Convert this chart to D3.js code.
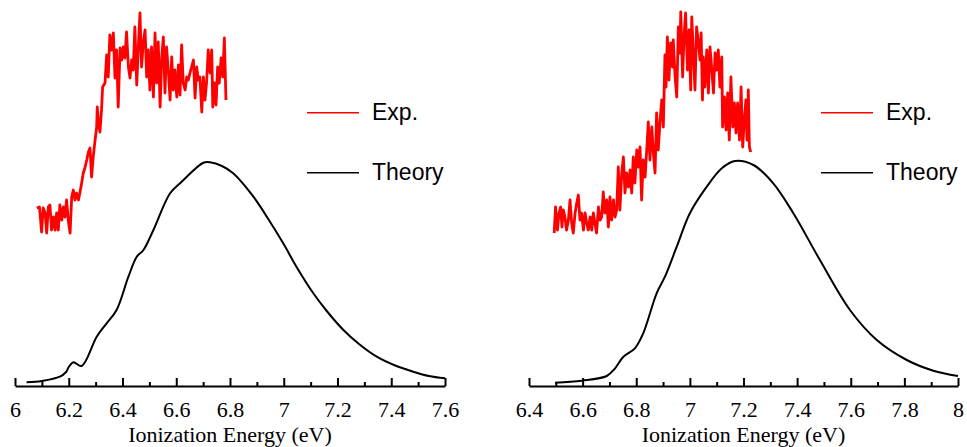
<html lang="en">
  <head>
    <meta charset="utf-8">
    <script src="https://d3js.org/d3.v7.min.js"></script>
    <style type="text/css">
body {
  margin: 0;
  background: #fff;
}
.axis text {
  font-family: "Liberation Serif", "Times New Roman", serif;
  font-size: 22px;
  fill: #000;
}
.axis path, .axis line {
  stroke: #000;
  stroke-width: 2;
}
.axis-title {
  font-family: "Liberation Serif", "Times New Roman", serif;
  font-size: 22px;
}
.legend text {
  font-family: "Liberation Sans", Arial, sans-serif;
  font-size: 23px;
}
    </style>
  </head>
  <body>
    <div id="chart"></div>
    <script type="text/javascript">
const width = 967;
const height = 447;
const baseY = 386;

// ---- left panel data (energy eV, intensity arb. units) ----
const leftTicks = [6, 6.2, 6.4, 6.6, 6.8, 7, 7.2, 7.4, 7.6];
const leftMinor = [6.1, 6.3, 6.5, 6.7, 6.9, 7.1, 7.3, 7.5];

const leftTheoryE = [6.043, 6.10, 6.167, 6.19, 6.20, 6.217, 6.248, 6.304, 6.341, 6.378, 6.422, 6.453, 6.478,
  6.515, 6.577, 6.620, 6.701, 6.726, 6.77, 6.812, 6.887, 6.94, 6.998, 7.05, 7.110, 7.16, 7.222,
  7.28, 7.346, 7.41, 7.482, 7.54, 7.600];
const leftTheoryI = [3.7, 5, 9.3, 14, 19, 23.7, 20, 49.3, 62.7, 76, 109.3, 129.3, 136,
  156, 192.7, 204.3, 223.3, 223.7, 220, 212.7, 189.3, 168, 142.7, 118, 92.7, 75, 56,
  42, 29.3, 21, 14.3, 10, 7.7];

const leftExpE = [6.081, 6.091, 6.099, 6.105, 6.112, 6.118, 6.124, 6.130, 6.136, 6.143, 6.149, 6.155,
  6.161, 6.167, 6.174, 6.180, 6.186, 6.192, 6.198, 6.205, 6.211, 6.217, 6.223, 6.229, 6.236, 6.242,
  6.248, 6.254, 6.260, 6.267, 6.273, 6.279, 6.285, 6.291, 6.298, 6.304, 6.306, 6.310, 6.316, 6.322,
  6.326, 6.335, 6.341, 6.347, 6.353, 6.360, 6.366, 6.372, 6.378, 6.384, 6.391, 6.397, 6.403, 6.409,
  6.415, 6.422, 6.428, 6.434, 6.440, 6.446, 6.453, 6.459, 6.465, 6.471, 6.477, 6.484, 6.490, 6.496,
  6.502, 6.508, 6.515, 6.521, 6.527, 6.533, 6.540, 6.546, 6.552, 6.558, 6.564, 6.571, 6.577, 6.583,
  6.589, 6.595, 6.602, 6.608, 6.614, 6.620, 6.626, 6.633, 6.639, 6.645, 6.651, 6.657, 6.664, 6.670,
  6.676, 6.682, 6.688, 6.695, 6.701, 6.707, 6.713, 6.719, 6.726, 6.732, 6.736, 6.742, 6.748, 6.754,
  6.760, 6.767, 6.773, 6.779, 6.785];
const leftExpI = [178, 179, 154, 178, 173, 153, 179, 181, 156, 169, 156, 173,
  156, 181, 166, 179, 169, 186, 166, 153, 189, 196, 186, 193, 186, 194,
  203, 213, 218, 226, 234, 238, 209, 229, 246, 259, 279, 266, 254, 276,
  299, 303, 331, 309, 351, 336, 353, 308, 336, 279, 338, 326, 339, 328,
  354, 319, 308, 326, 316, 359, 301, 339, 373, 319, 343, 356, 309, 336,
  296, 339, 289, 353, 303, 344, 279, 329, 349, 293, 339, 313, 286, 329,
  296, 316, 289, 321, 291, 341, 303, 296, 309, 306, 313, 319, 326, 288,
  319, 306, 309, 274, 309, 286, 304, 336, 313, 336, 279, 303, 281, 319,
  303, 328, 309, 348, 286];

// ---- right panel data ----
const rightTicks = [6.4, 6.6, 6.8, 7, 7.2, 7.4, 7.6, 7.8, 8];
const rightMinor = [6.5, 6.7, 6.9, 7.1, 7.3, 7.5, 7.7, 7.9];

const rightTheoryE = [6.497, 6.597, 6.690, 6.721, 6.752, 6.795, 6.826, 6.876, 6.907, 6.951, 7.000,
  7.063, 7.119, 7.168, 7.237, 7.311, 7.386, 7.485, 7.597, 7.697, 7.809, 7.908, 8.0];
const rightTheoryI = [3.3, 5.3, 10, 17.7, 29.3, 37.7, 52.7, 92.7, 109.3, 139.3, 172.7,
  199.3, 217.7, 225, 221, 202.7, 172.7, 126, 76, 46, 26, 15.3, 10];

const rightExpE = [6.494, 6.499, 6.506, 6.512, 6.518, 6.523, 6.528, 6.534, 6.540, 6.547, 6.553, 6.559,
  6.565, 6.572, 6.578, 6.584, 6.590, 6.596, 6.603, 6.609, 6.615, 6.621, 6.628, 6.634, 6.640, 6.646,
  6.652, 6.659, 6.665, 6.671, 6.677, 6.683, 6.690, 6.696, 6.702, 6.708, 6.715, 6.721, 6.727, 6.733,
  6.739, 6.746, 6.752, 6.758, 6.764, 6.771, 6.777, 6.783, 6.789, 6.795, 6.802, 6.808, 6.814, 6.820,
  6.826, 6.833, 6.839, 6.845, 6.851, 6.858, 6.864, 6.870, 6.876, 6.882, 6.889, 6.895, 6.901, 6.907,
  6.911, 6.916, 6.922, 6.928, 6.935, 6.938, 6.945, 6.951, 6.957, 6.963, 6.966, 6.973, 6.978, 6.984,
  6.991, 6.997, 7.003, 7.007, 7.013, 7.019, 7.025, 7.032, 7.038, 7.042, 7.047, 7.050, 7.056, 7.063,
  7.069, 7.075, 7.081, 7.088, 7.094, 7.100, 7.106, 7.112, 7.119, 7.122, 7.129, 7.135, 7.141, 7.147,
  7.153, 7.160, 7.166, 7.172, 7.178, 7.185, 7.191, 7.197, 7.203, 7.209, 7.213, 7.218, 7.222, 7.227];
const rightExpI = [153, 179, 156, 173, 179, 159, 176, 169, 156, 166, 186, 163,
  153, 173, 183, 191, 166, 173, 156, 173, 163, 156, 169, 156, 173, 163,
  153, 179, 166, 169, 194, 173, 186, 159, 189, 166, 186, 169, 176, 219,
  176, 213, 229, 193, 213, 199, 216, 193, 229, 203, 236, 219, 239, 186,
  226, 209, 236, 264, 226, 259, 233, 213, 273, 236, 266, 286, 259, 331,
  299, 349, 306, 343, 319, 346, 309, 289, 359, 333, 374, 309, 349, 373,
  316, 356, 296, 369, 333, 296, 359, 343, 326, 353, 286, 329, 299, 336,
  293, 339, 319, 293, 333, 316, 336, 299, 329, 259, 289, 256, 293, 246,
  309, 259, 283, 253, 283, 246, 299, 239, 266, 286, 246, 296, 239, 234];

const legendItems = ["Exp.", "Theory"];
const legendColors = ["#ff0000", "#000000"];

const panels = [
  {domain: [6, 7.6], range: [15, 445], ticks: leftTicks, minor: leftMinor,
   theoryE: leftTheoryE, theoryI: leftTheoryI, expE: leftExpE, expI: leftExpI},
  {domain: [6.4, 8], range: [529, 958], ticks: rightTicks, minor: rightMinor,
   theoryE: rightTheoryE, theoryI: rightTheoryI, expE: rightExpE, expI: rightExpI}
];

const y = d3.scaleLinear()
  .domain([0, baseY])
  .range([baseY, 0]);

const svg = d3.select("#chart").append("svg")
  .attr("width", width)
  .attr("height", height);

function drawPanel(p) {
  const x = d3.scaleLinear().domain(p.domain).range(p.range);
  const g = svg.append("g");

  g.append("g")
    .attr("class", "axis")
    .attr("transform", `translate(0,${baseY})`)
    .call(d3.axisBottom(x).tickValues(p.ticks).tickSizeInner(-8).tickSizeOuter(0)
      .tickPadding(15).tickFormat(d => String(d)));

  g.append("g")
    .attr("class", "axis")
    .attr("transform", `translate(0,${baseY})`)
    .call(d3.axisBottom(x).tickValues(p.minor).tickSizeInner(-4).tickSizeOuter(0)
      .tickFormat(""))
    .call(a => a.select(".domain").remove());

  g.append("text")
    .attr("class", "axis-title")
    .attr("x", (p.range[0] + p.range[1]) / 2)
    .attr("y", 441.5)
    .attr("text-anchor", "middle")
    .text("Ionization Energy (eV)");

  const theory = p.theoryE.map((e, i) => [e, p.theoryI[i]]);
  const exp = p.expE.map((e, i) => [e, p.expI[i]]);

  g.append("path")
    .datum(theory)
    .attr("fill", "none")
    .attr("stroke", legendColors[1])
    .attr("stroke-width", 2)
    .attr("d", d3.line().x(d => x(d[0])).y(d => y(d[1])).curve(d3.curveCatmullRom));

  g.append("path")
    .datum(exp)
    .attr("fill", "none")
    .attr("stroke", legendColors[0])
    .attr("stroke-width", 2.8)
    .attr("stroke-linejoin", "round")
    .attr("d", d3.line().x(d => x(d[0])).y(d => y(d[1])));

  const lg = g.append("g")
    .attr("class", "legend")
    .attr("transform", `translate(${p.range[0] + 292},0)`);
  legendItems.forEach((name, i) => {
    const ly = 112.7 + i * 60;
    lg.append("line")
      .attr("x1", 0).attr("x2", 52)
      .attr("y1", ly).attr("y2", ly)
      .attr("stroke", legendColors[i])
      .attr("stroke-width", 1.6);
    lg.append("text")
      .attr("x", 65)
      .attr("y", ly + 7.5)
      .text(name);
  });
}

panels.forEach(drawPanel);
    </script>
  </body>
</html>
